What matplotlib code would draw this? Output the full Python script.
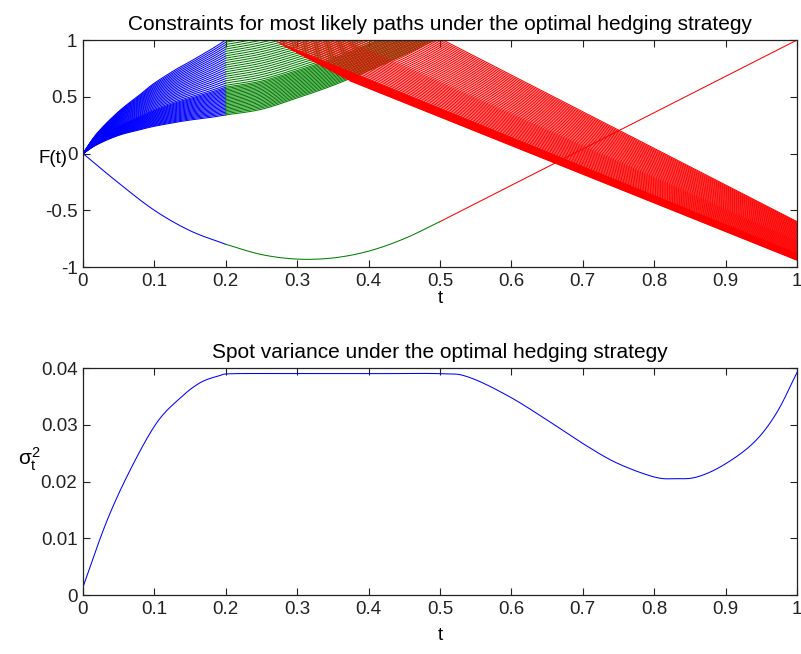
import numpy as np
import matplotlib
matplotlib.use("Agg")
import matplotlib.pyplot as plt

plt.rcParams['font.family'] = ['Liberation Sans', 'DejaVu Sans']
plt.rcParams['mathtext.fontset'] = 'custom'
plt.rcParams['mathtext.rm'] = 'Liberation Sans'
plt.rcParams['mathtext.it'] = 'Liberation Sans'

# ---- top panel: bundle of most likely paths ----
# blue segment (0 -> 0.2): lower / upper envelope of the fan
t_blue = [0, 0.02, 0.05, 0.08, 0.1, 0.13, 0.15, 0.18, 0.2]
blue_lo = [0, 0.08, 0.16, 0.21, 0.24, 0.275, 0.295, 0.32, 0.34]
blue_hi = [0, 0.18, 0.37, 0.52, 0.62, 0.74, 0.81, 0.92, 1.0]

# green segment (0.2 -> 0.5)
t_green = [0.2, 0.25, 0.3, 0.35, 0.4, 0.45, 0.5]
green_lo = [0.34, 0.39, 0.49, 0.6, 0.73, 0.87, 1.02]
green_hi = [1.0, 1.06, 1.14, 1.24, 1.36, 1.5, 1.66]

# spacing of the paths (denser near the lower edge)
path_knots = [0, 0.5, 1]
path_weight = [0, 0.38, 1]
n_paths = 42

# red segment: straight lines from a start point to the value at t=1
red_knots = [0, 0.3, 0.6, 1]
red_t0 = [0.374, 0.272, 0.262, 0.25]
red_F0 = [0.64, 0.98, 1.3, 1.82]
red_F1 = [-0.94, -0.88, -0.77, -0.6]
n_red = 60

# lowest path
low_t_blue = [0, 0.05, 0.1, 0.15, 0.2]
low_F_blue = [0, -0.26, -0.5, -0.68, -0.8]
low_t_green = [0.2, 0.25, 0.3, 0.35, 0.4, 0.45, 0.5]
low_F_green = [-0.8, -0.89, -0.93, -0.92, -0.86, -0.75, -0.6]
low_t_red = [0.5, 1.0]
low_F_red = [-0.6, 1.0]

# ---- bottom panel: spot variance ----
t_var = [0, 0.033, 0.066, 0.103, 0.136, 0.164, 0.19, 0.21, 0.3, 0.4, 0.5,
         0.54, 0.598, 0.654, 0.70, 0.747, 0.80, 0.83, 0.86, 0.897, 0.939, 0.971, 1.0]
var = [0.0014, 0.0129, 0.0220, 0.0303, 0.0347, 0.0374, 0.0386, 0.0390, 0.0390, 0.0390,
       0.0390, 0.0384, 0.0349, 0.0305, 0.0267, 0.0233, 0.0208, 0.0205, 0.0208,
       0.0229, 0.0268, 0.0320, 0.0392]

BLUE = (0, 0, 1)
GREEN = (0, 0.5, 0)
RED = (1, 0, 0)
lw = 0.75


def smooth(xs, ys, n=12):
    # Catmull-Rom curve through the read points
    xs = np.asarray(xs, float)
    ys = np.asarray(ys, float)
    px = np.r_[2 * xs[0] - xs[1], xs, 2 * xs[-1] - xs[-2]]
    py = np.r_[2 * ys[0] - ys[1], ys, 2 * ys[-1] - ys[-2]]
    s = np.linspace(0, 1, n, endpoint=False)[:, None]
    outx, outy = [], []
    for i in range(1, len(px) - 2):
        for p, out in ((px, outx), (py, outy)):
            p0, p1, p2, p3 = p[i - 1], p[i], p[i + 1], p[i + 2]
            c = 0.5 * (2 * p1 + (-p0 + p2) * s + (2 * p0 - 5 * p1 + 4 * p2 - p3) * s ** 2
                       + (-p0 + 3 * p1 - 3 * p2 + p3) * s ** 3)
            out.append(c.ravel())
    return np.r_[np.concatenate(outx), xs[-1]], np.r_[np.concatenate(outy), ys[-1]]


fig = plt.figure(figsize=(8.01, 6.54), dpi=100)
ax1 = fig.add_axes([0.1036, 0.5917, 0.8914, 0.3471])
ax2 = fig.add_axes([0.1036, 0.0902, 0.8914, 0.3471])

u = np.arange(n_paths) / (n_paths - 1)
w = np.interp(u, path_knots, path_weight)
bl, bh = np.array(blue_lo), np.array(blue_hi)
gl, gh = np.array(green_lo), np.array(green_hi)
for wk in w:
    ax1.plot(*smooth(t_blue, bl + wk * (bh - bl)), color=BLUE, lw=lw)
for wk in w:
    ax1.plot(*smooth(t_green, gl + wk * (gh - gl)), color=GREEN, lw=lw)

v = np.arange(n_red) / (n_red - 1)
for vk in v:
    t0 = np.interp(vk, red_knots, red_t0)
    f0 = np.interp(vk, red_knots, red_F0)
    f1 = np.interp(vk, red_knots, red_F1)
    ax1.plot([t0, 1.0], [f0, f1], color=RED, lw=lw)

ax1.plot(*smooth(low_t_blue, low_F_blue), color=BLUE, lw=lw)
ax1.plot(*smooth(low_t_green, low_F_green), color=GREEN, lw=lw)
ax1.plot(low_t_red, low_F_red, color=RED, lw=lw)

ax1.set_xlim(0, 1)
ax1.set_ylim(-1, 1)
ax1.set_yticks([-1, -0.5, 0, 0.5, 1])
ax1.set_yticklabels(['-1', '-0.5', '0', '0.5', '1'])
ax1.set_title('Constraints for most likely paths under the optimal hedging strategy',
              fontsize=15, pad=7)
ax1.set_xlabel('t', fontsize=13.5)
ax1.set_ylabel('F(t)', fontsize=13.5, rotation=0, ha='center', va='center')
ax1.yaxis.set_label_coords(-0.042, 0.48)
ax1.xaxis.set_label_coords(0.5, -0.1)

ax2.plot(*smooth(t_var, var), color=BLUE, lw=lw)
ax2.set_xlim(0, 1)
ax2.set_ylim(0, 0.04)
ax2.set_yticks([0, 0.01, 0.02, 0.03, 0.04])
ax2.set_yticklabels(['0', '0.01', '0.02', '0.03', '0.04'])
ax2.set_title('Spot variance under the optimal hedging strategy', fontsize=15, pad=7)
ax2.set_xlabel('t', fontsize=13.5)
ax2.set_ylabel(r'$\sigma_t^2$', fontsize=15, rotation=0, ha='center', va='center')
ax2.yaxis.set_label_coords(-0.075, 0.6)
ax2.xaxis.set_label_coords(0.5, -0.14)

for ax in (ax1, ax2):
    ax.set_xticks(np.arange(0, 1.01, 0.1))
    ax.set_xticklabels(['0', '0.1', '0.2', '0.3', '0.4', '0.5', '0.6', '0.7', '0.8', '0.9', '1'])
    ax.tick_params(direction='in', length=5, width=0.8, top=True, right=True,
                   labelsize=13.5, pad=4, colors='#222222')
    for s in ax.spines.values():
        s.set_linewidth(0.9)
        s.set_color('#222222')

fig.savefig('out.png', dpi=100)
